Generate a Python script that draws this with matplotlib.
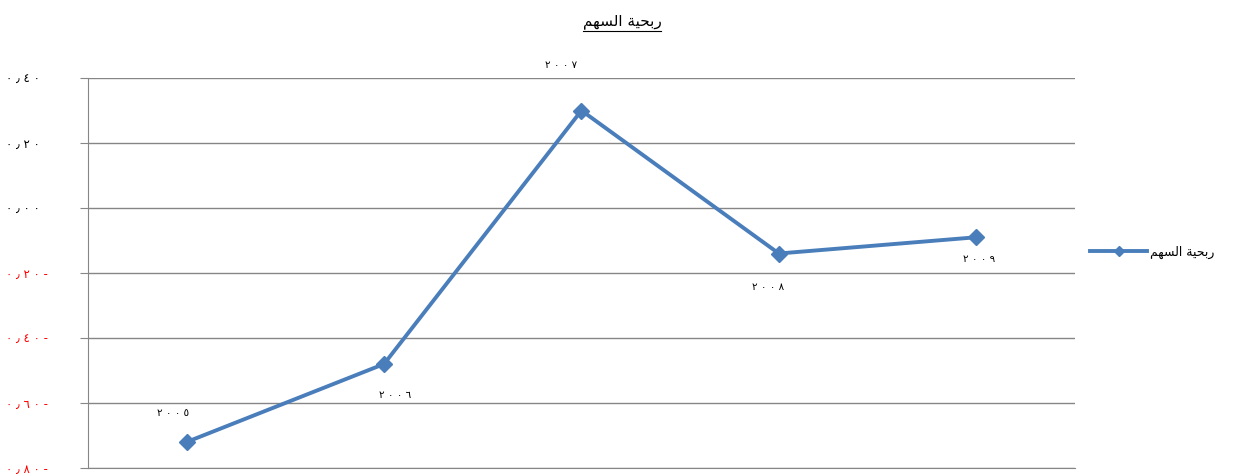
import matplotlib
matplotlib.use('Agg')
import matplotlib.pyplot as plt
from matplotlib.lines import Line2D

plt.rcParams['font.family'] = ['DejaVu Sans']

# ربحية السهم (shaped, visual order)
title = '\uFEE2\uFEEC\uFEB4\uFEDF\uFE8D \uFE94\uFEF4\uFEA4\uFE91\uFEAD'
years = ['٢ ٠ ٠ ٥', '٢ ٠ ٠ ٦', '٢ ٠ ٠ ٧', '٢ ٠ ٠ ٨', '٢ ٠ ٠ ٩']
eps = [-0.72, -0.48, 0.30, -0.14, -0.09]
yticks = [0.40, 0.20, 0.00, -0.20, -0.40, -0.60, -0.80]
ylabels = ['٠ ٫ ٤ ٠', '٠ ٫ ٢ ٠', '٠ ٫ ٠ ٠', '٠ ٫ ٢ ٠ -', '٠ ٫ ٤ ٠ -',
           '٠ ٫ ٦ ٠ -', '٠ ٫ ٨ ٠ -']

# label offsets in points (style)
offs = [(-10, 21), (8, -22), (-15, 33), (-8, -24), (2, -16)]

fig = plt.figure(figsize=(12.39, 4.74), dpi=100)
ax = fig.add_axes([0.071, 0.0127, 0.7966, 0.8227])

x = list(range(len(eps)))
ax.plot(x, eps, color='#4A7EBB', lw=2.8, marker='D', ms=8.5,
        markeredgecolor='#4A7EBB', label=title)

for i, (yr, v) in enumerate(zip(years, eps)):
    ax.annotate(yr, (i, v), xytext=offs[i], textcoords='offset points',
                ha='center', va='center', fontsize=7.5, annotation_clip=False)

ax.set_xlim(-0.5, len(eps) - 0.5)
ax.set_ylim(-0.80, 0.40)
ax.set_yticks(yticks)
ax.set_yticklabels(ylabels, fontsize=8.5)
for lab, v in zip(ax.get_yticklabels(), yticks):
    lab.set_ha('left')
    if v < 0:
        lab.set_color('red')
ax.tick_params(axis='y', length=6, color='#868686', pad=53)
ax.set_xticks([])
ax.grid(axis='y', color='#868686', lw=1)
for s in ['top', 'right']:
    ax.spines[s].set_visible(False)
ax.spines['left'].set_color('#868686')
ax.spines['bottom'].set_color('#868686')

t = fig.text(0.502, 0.955, title, ha='center', va='center', fontsize=11)

leg = ax.legend(loc='center left', bbox_to_anchor=(0.871, 0.468),
                bbox_transform=fig.transFigure, frameon=False,
                fontsize=9, handlelength=4.5, handletextpad=0.3,
                markerscale=0.6)

fig.canvas.draw()
bb = t.get_window_extent().transformed(fig.transFigure.inverted())
fig.add_artist(Line2D([bb.x0, bb.x1], [bb.y0 - 0.004, bb.y0 - 0.004],
                      transform=fig.transFigure, color='black', lw=0.8))

fig.savefig('out.png', dpi=100)
